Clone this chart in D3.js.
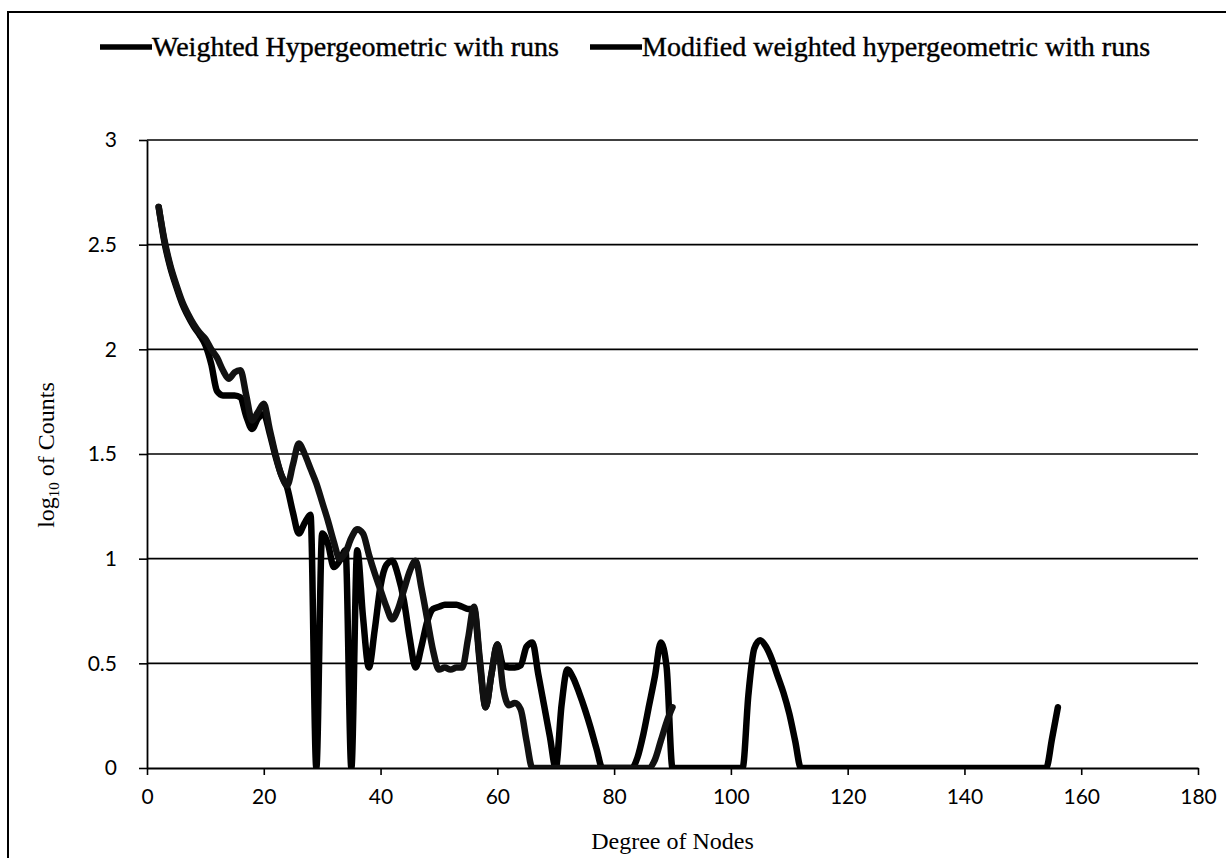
<!DOCTYPE html>
<html>
<head>
<meta charset="utf-8">
<script src="https://cdn.jsdelivr.net/npm/d3@7"></script>
<style>
  body { margin: 0; background: #fff; }
  svg { display: block; }
</style>
</head>
<body>
<div id="chart"></div>
<script>
// series names (legend order)
var seriesNames = ["Weighted Hypergeometric with runs", "Modified weighted hypergeometric with runs"];

// Weighted Hypergeometric with runs
var degreesA = [2, 3, 4, 5, 6, 7, 8, 9, 10, 11, 12, 13, 14, 15, 16, 17, 18, 19, 20, 21,
    22, 23, 24, 25, 26, 27, 28, 29, 30, 31, 32, 33, 34, 35, 36, 37, 38, 39, 40, 41,
    42, 43, 44, 45, 46, 47, 48, 49, 50, 51, 52, 53, 54, 55, 56, 57, 58, 59, 60, 61,
    62, 63, 64, 65, 66, 86, 87, 88, 89, 90];
var countsA = [2.68, 2.52, 2.40, 2.31, 2.23, 2.17, 2.12, 2.08, 2.05, 2.00, 1.96, 1.90, 1.86, 1.89, 1.90, 1.78, 1.66, 1.70, 1.74, 1.62,
    1.50, 1.40, 1.35, 1.45, 1.55, 1.50, 1.43, 1.36, 1.27, 1.18, 1.08, 1.00, 1.03, 1.10, 1.14, 1.12, 1.02, 0.93, 0.85, 0.77,
    0.71, 0.76, 0.85, 0.94, 0.99, 0.86, 0.71, 0.56, 0.47, 0.48, 0.47, 0.48, 0.48, 0.62, 0.77, 0.52, 0.29, 0.45, 0.59, 0.38,
    0.30, 0.31, 0.28, 0.13, 0, 0, 0.04, 0.13, 0.22, 0.29];

// Modified weighted hypergeometric with runs
var degreesB = [2, 3, 4, 5, 6, 7, 8, 9, 10, 11, 12, 13, 14, 15, 16, 17, 18, 19, 20, 21,
    22, 23, 24, 25, 26, 27, 28, 29, 30, 31, 32, 33, 34, 35, 36, 37, 38, 39, 40, 41,
    42, 43, 44, 45, 46, 47, 48, 49, 50, 51, 52, 53, 54, 55, 56, 57, 58, 59, 60, 61,
    62, 63, 64, 65, 66, 67, 68, 69, 70, 71, 72, 73, 74, 75, 76, 77, 78, 83, 84, 85,
    86, 87, 88, 89, 90, 102, 103, 104, 105, 106, 107, 108, 109, 110, 111, 112, 154, 155, 156];
var countsB = [2.68, 2.51, 2.39, 2.30, 2.22, 2.16, 2.11, 2.07, 2.02, 1.93, 1.80, 1.78, 1.78, 1.78, 1.77, 1.68, 1.62, 1.67, 1.69, 1.60,
    1.49, 1.40, 1.34, 1.22, 1.12, 1.17, 1.21, 0, 1.12, 1.07, 0.96, 0.99, 1.04, 0, 1.04, 0.72, 0.48, 0.66, 0.87, 0.97,
    0.99, 0.92, 0.80, 0.62, 0.48, 0.58, 0.70, 0.76, 0.77, 0.78, 0.78, 0.78, 0.77, 0.76, 0.76, 0.50, 0.29, 0.45, 0.59, 0.49,
    0.48, 0.48, 0.49, 0.58, 0.60, 0.45, 0.30, 0.15, 0, 0.30, 0.47, 0.43, 0.36, 0.28, 0.19, 0.09, 0, 0, 0.05, 0.16,
    0.30, 0.44, 0.60, 0.48, 0, 0, 0.35, 0.57, 0.61, 0.58, 0.52, 0.44, 0.36, 0.26, 0.13, 0, 0, 0.14, 0.29];

var xTicks = [0, 20, 40, 60, 80, 100, 120, 140, 160, 180];
var yTicks = [0, 0.5, 1, 1.5, 2, 2.5, 3];

var W = 1226, H = 858;
var margin = { top: 140, right: 28, bottom: 90, left: 147 };
var width = W - margin.left - margin.right;
var height = H - margin.top - margin.bottom;

var svg = d3.select('#chart').append('svg')
    .attr('width', W)
    .attr('height', H);

// outer frame (only top and left edges are inside the picture)
svg.append('rect')
    .attr('x', 8).attr('y', 12)
    .attr('width', W + 20).attr('height', H + 20)
    .attr('fill', 'none')
    .attr('stroke', '#000')
    .attr('stroke-width', 2);

var g = svg.append('g').attr('transform', 'translate(' + margin.left + ',' + margin.top + ')');

var x = d3.scaleLinear().domain([0, 180]).range([0, width]);
var y = d3.scaleLinear().domain([0, 3]).range([height, 0]);

var tickFont = 'Lato, "Open Sans", sans-serif';
var serifFont = '"Liberation Serif", "Times New Roman", serif';

// gridlines
g.append('g')
    .selectAll('line')
    .data(yTicks.filter(function (d) { return d > 0; }))
    .enter().append('line')
    .attr('x1', 0).attr('x2', width)
    .attr('y1', function (d) { return y(d); })
    .attr('y2', function (d) { return y(d); })
    .attr('stroke', '#000')
    .attr('stroke-width', 1.6);

// x axis
var xAxis = g.append('g')
    .attr('transform', 'translate(0,' + height + ')')
    .call(d3.axisBottom(x).tickValues(xTicks).tickSize(7).tickPadding(14).tickSizeOuter(0));
xAxis.select('.domain').attr('stroke-width', 2);
xAxis.selectAll('.tick line').attr('stroke-width', 1.6);
xAxis.selectAll('text')
    .attr('font-family', tickFont)
    .attr('font-size', 21)
    .attr('fill', '#000');

// y axis
var yAxis = g.append('g')
    .call(d3.axisLeft(y).tickValues(yTicks).tickFormat(function (d) { return String(d); })
        .tickSize(8).tickPadding(22).tickSizeOuter(0));
yAxis.select('.domain').attr('stroke-width', 1.8);
yAxis.selectAll('.tick line').attr('stroke-width', 1.6);
yAxis.selectAll('text')
    .attr('font-family', tickFont)
    .attr('font-size', 21)
    .attr('fill', '#000');

// clip so the zero runs sit on the axis like the original
svg.append('clipPath').attr('id', 'plot-clip')
    .append('rect')
    .attr('x', -10).attr('y', -20)
    .attr('width', width + 20).attr('height', height + 20);

var line = d3.line()
    .x(function (d) { return x(d[0]); })
    .y(function (d) { return y(d[1]); })
    .curve(d3.curveMonotoneX);

var seriesA = degreesA.map(function (d, i) { return [d, countsA[i]]; });
var seriesB = degreesB.map(function (d, i) { return [d, countsB[i]]; });

var lines = g.append('g').attr('clip-path', 'url(#plot-clip)');

lines.append('path')
    .datum(seriesB)
    .attr('fill', 'none')
    .attr('stroke', '#000')
    .attr('stroke-width', 6.5)
    .attr('stroke-linejoin', 'round')
    .attr('stroke-linecap', 'round')
    .attr('d', line);

lines.append('path')
    .datum(seriesA)
    .attr('fill', 'none')
    .attr('stroke', '#111')
    .attr('stroke-width', 6.5)
    .attr('stroke-linejoin', 'round')
    .attr('stroke-linecap', 'round')
    .attr('d', line);

// legend
var legend = svg.append('g')
    .attr('font-family', serifFont)
    .attr('font-size', 28);

var legendX = [100, 590];
seriesNames.forEach(function (name, i) {
    var lg = legend.append('g').attr('transform', 'translate(' + legendX[i] + ',47)');
    lg.append('line')
        .attr('x1', 0).attr('x2', 52)
        .attr('y1', 0).attr('y2', 0)
        .attr('stroke', '#000')
        .attr('stroke-width', 5.5);
    lg.append('text')
        .attr('x', 52)
        .attr('dy', '0.33em')
        .attr('stroke', '#000')
        .attr('stroke-width', 0.4)
        .text(name);
});

// axis titles
svg.append('text')
    .attr('x', margin.left + x(90))
    .attr('y', 849)
    .attr('text-anchor', 'middle')
    .attr('font-family', serifFont)
    .attr('font-size', 24)
    .text('Degree of Nodes');

var yTitle = svg.append('text')
    .attr('transform', 'translate(54,455) rotate(-90)')
    .attr('text-anchor', 'middle')
    .attr('font-family', serifFont)
    .attr('font-size', 24);
yTitle.append('tspan').text('log');
yTitle.append('tspan').attr('font-size', 15).attr('dy', 5).text('10');
yTitle.append('tspan').attr('dy', -5).text(' of Counts');
</script>
</body>
</html>
